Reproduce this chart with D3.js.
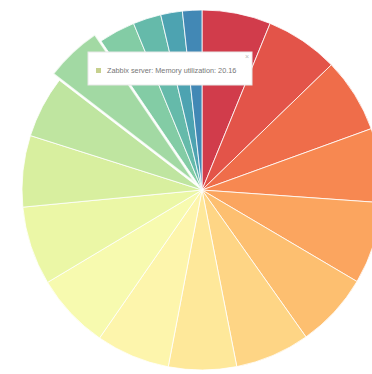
<!DOCTYPE html>
<html>
<head>
<meta charset="utf-8">
<script src="https://cdn.jsdelivr.net/npm/d3@7"></script>
<style>
  body { margin: 0; background: #fff; }
</style>
</head>
<body>
<div id="pie"></div>
<script>
// slice values, clockwise from 12 o'clock
const values = [24.5, 26.1, 26.6, 26.4, 29.2, 26.6, 26.6, 24.2, 26.3, 26.9, 28.0, 25.4, 22.0, 20.16, 13.0, 10.0, 7.7, 6.9];
const names = values.map((v, i) => "Item " + (i + 1));
names[13] = "Zabbix server: Memory utilization";
const hovered = 13;

const width = 372, height = 374;
const radius = 180;

var svg = d3
  .select("#pie")
  .append("svg")
  .attr("width", width)
  .attr("height", height);

var g = svg.append("g").attr("transform", "translate(202,190)");

const color = d3
  .scaleLinear()
  .domain([0, values.length - 1])
  .range([0.1, 0.9]);

const pie = d3.pie().sort(null).value((d) => d);
const arc = d3.arc().innerRadius(0).outerRadius(radius);

const slices = pie(values);

g.selectAll("path")
  .data(slices)
  .join("path")
  .attr("d", arc)
  .attr("fill", (d, i) => d3.interpolateSpectral(color(i)))
  .attr("stroke", "#fff")
  .attr("stroke-opacity", 0.8)
  .attr("transform", (d, i) => {
    if (i != hovered) return null;
    const a = (d.startAngle + d.endAngle) / 2;
    return `translate(${Math.sin(a) * 9},${-Math.cos(a) * 9})`;
  })
  .attr("stroke-width", (d, i) => (i == hovered ? 2 : 1));

// tooltip
var tip = svg.append("g").attr("transform", "translate(88,52)");
tip.append("rect")
  .attr("width", 164)
  .attr("height", 33)
  .attr("fill", "#fff")
  .attr("stroke", "#e8e8e8");
tip.append("rect")
  .attr("x", 8)
  .attr("y", 16)
  .attr("width", 5)
  .attr("height", 5)
  .attr("fill", "#c6d08e");
tip.append("text")
  .attr("x", 19)
  .attr("y", 21)
  .attr("font-family", "Liberation Sans, Arial, sans-serif")
  .attr("font-size", 7.3)
  .attr("fill", "#777")
  .text(names[hovered] + ": " + values[hovered]);
tip.append("text")
  .attr("x", 157)
  .attr("y", 7)
  .attr("font-family", "Liberation Sans, Arial, sans-serif")
  .attr("font-size", 7)
  .attr("fill", "#bbb")
  .text("×");
</script>
</body>
</html>
